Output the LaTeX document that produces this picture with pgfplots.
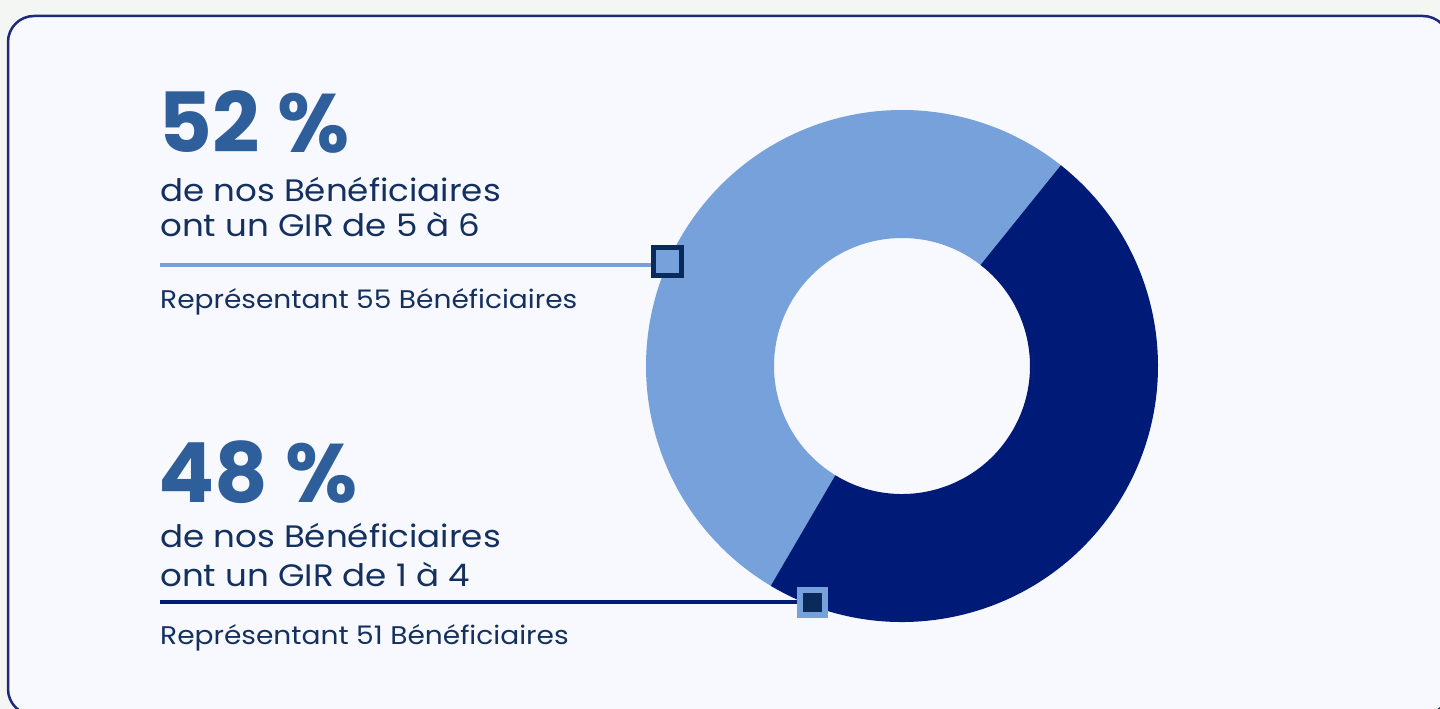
\documentclass[border=0pt]{standalone}
\usepackage{fontspec}
\setmainfont{Poppins}
\newfontfamily\bodyfont[FakeStretch=1.1]{Poppins}
\usepackage{pgfplots}
\usepackage{pgfplotstable}
\pgfplotsset{compat=1.18}
\definecolor{bgout}{HTML}{F4F6F3}
\definecolor{card}{HTML}{F7F9FE}
\definecolor{framec}{HTML}{1E2A78}
\definecolor{lightb}{HTML}{76A1DB}
\definecolor{darkb}{HTML}{001A78}
\definecolor{navy}{HTML}{0B2A5C}
\definecolor{numblue}{HTML}{2E5F9B}
\definecolor{txt}{HTML}{13305F}

\pgfplotstableread{
group pct count
GIR56 52 55
GIR14 48 51
}\girdata

\begin{document}
\begin{tikzpicture}
\pgfplotstablegetelem{0}{pct}\of\girdata \let\pctA\pgfplotsretval
\pgfplotstablegetelem{1}{pct}\of\girdata \let\pctB\pgfplotsretval
\pgfmathsetmacro{\startang}{51.8}
\pgfmathsetmacro{\midang}{\startang+3.6*\pctA}
\pgfmathsetmacro{\endang}{\midang+3.6*\pctB}
\pgfmathsetmacro{\lstart}{\startang-1}
\pgfmathsetmacro{\lend}{\midang+1}
\useasboundingbox (0,0) rectangle (1440bp,709bp);
\fill[bgout] (0,0) rectangle (1440bp,709bp);
\begin{axis}[x=1bp,y=1bp,xmin=0,xmax=1440,ymin=0,ymax=709,
  axis lines=none, clip=false, at={(0,0)}, anchor=south west]
\draw[framec, fill=card, line width=2.5bp, rounded corners=26bp]
  (axis cs:8,-6) rectangle (axis cs:1449,693);
% donut
\draw[lightb, line width=128bp] (axis cs:902,343) ++(\lstart:192bp)
  arc[start angle=\lstart, end angle=\lend, radius=192bp];
\draw[darkb, line width=128bp] (axis cs:902,343) ++(\midang:192bp)
  arc[start angle=\midang, end angle=\endang, radius=192bp];
% leader lines
\addplot[lightb, line width=3.5bp, no marks] coordinates {(160,444) (651,444)};
\addplot[darkb, line width=4bp, no marks] coordinates {(160,107) (797,107)};
\addplot[draw=none, mark=square*, mark size=14bp,
  mark options={draw=navy, fill=lightb, line width=5bp}] coordinates {(667.5,447)};
\addplot[draw=none, mark=square*, mark size=12.5bp,
  mark options={draw=lightb, fill=navy, line width=6bp}] coordinates {(812.5,106.5)};
% texts
\node[anchor=base west, inner sep=0, text=numblue, font=\fontsize{83bp}{83bp}\selectfont\bfseries]
  at (axis cs:158,556) {52 \%};
\node[anchor=base west, inner sep=0, text=txt, font=\bodyfont\fontsize{31bp}{36bp}\selectfont]
  at (axis cs:160,507) {de nos Bénéficiaires};
\node[anchor=base west, inner sep=0, text=txt, font=\bodyfont\fontsize{31bp}{36bp}\selectfont]
  at (axis cs:160,472) {ont un GIR de 5 à 6};
\node[anchor=base west, inner sep=0, text=txt, font=\bodyfont\fontsize{25.5bp}{30bp}\selectfont]
  at (axis cs:160,400) {Représentant 55 Bénéficiaires};
\node[anchor=base west, inner sep=0, text=numblue, font=\fontsize{83bp}{83bp}\selectfont\bfseries]
  at (axis cs:158,207) {48 \%};
\node[anchor=base west, inner sep=0, text=txt, font=\bodyfont\fontsize{31bp}{36bp}\selectfont]
  at (axis cs:160,162) {de nos Bénéficiaires};
\node[anchor=base west, inner sep=0, text=txt, font=\bodyfont\fontsize{31bp}{36bp}\selectfont]
  at (axis cs:160,123) {ont un GIR de 1 à 4};
\node[anchor=base west, inner sep=0, text=txt, font=\bodyfont\fontsize{25.5bp}{30bp}\selectfont]
  at (axis cs:160,65) {Représentant 51 Bénéficiaires};
\end{axis}
\end{tikzpicture}
\end{document}
